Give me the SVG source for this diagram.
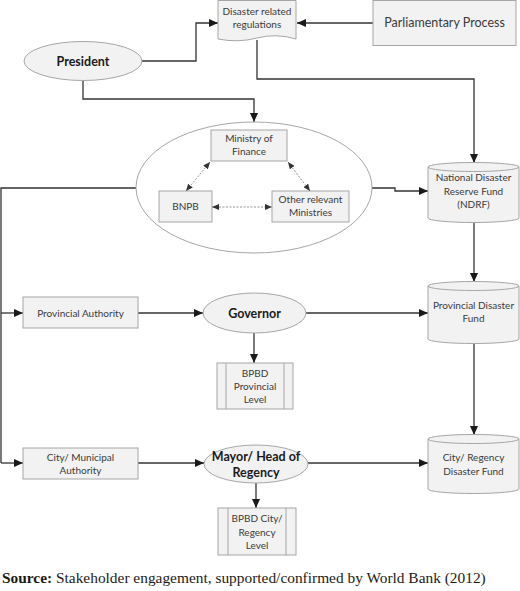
<svg xmlns="http://www.w3.org/2000/svg" width="520" height="591" viewBox="0 0 520 591">
<defs>
<marker id="ah" markerUnits="userSpaceOnUse" markerWidth="9" markerHeight="8" refX="9" refY="4" orient="auto"><path d="M0,0 L9,4 L0,8 z" fill="#1a1a1a"/></marker>
<marker id="dh" markerUnits="userSpaceOnUse" markerWidth="7" markerHeight="6" refX="7" refY="3" orient="auto-start-reverse"><path d="M0,0 L7,3 L0,6 z" fill="#333"/></marker>
<style>
.box{fill:#f2f2f2;stroke:#a6a6a6;stroke-width:1}
.t{font-family:Lato,"Liberation Sans",sans-serif;font-size:10px;fill:#3a3a3a;text-anchor:middle}
.b{font-family:Lato,"Liberation Sans",sans-serif;font-size:12.5px;font-weight:bold;fill:#1a1a1a;text-anchor:middle}
.c{fill:none;stroke:#333;stroke-width:1.3}
.d{fill:none;stroke:#888;stroke-width:0.9;stroke-dasharray:2,1.5}
</style>
</defs>
<g id="connectors">
<path class="c" d="M373,23 H297" marker-end="url(#ah)"/>
<path class="c" d="M142,61 H196 V23 H218" marker-end="url(#ah)"/>
<path class="c" d="M83,81 V99 H254 V122" marker-end="url(#ah)"/>
<path class="c" d="M257,40 V79 H474 V163" marker-end="url(#ah)"/>
<path class="c" d="M372,188 H395 V191 H428" marker-end="url(#ah)"/>
<path class="c" d="M136,188 H1 V463"/>
<path class="c" d="M1,313 H23" marker-end="url(#ah)"/>
<path class="c" d="M1,463 H23" marker-end="url(#ah)"/>
<path class="c" d="M138,313 H203" marker-end="url(#ah)"/>
<path class="c" d="M306,313 H428" marker-end="url(#ah)"/>
<path class="c" d="M254,333 V363" marker-end="url(#ah)"/>
<path class="c" d="M474,222 V282" marker-end="url(#ah)"/>
<path class="c" d="M474,343 V435" marker-end="url(#ah)"/>
<path class="c" d="M138,463 H204" marker-end="url(#ah)"/>
<path class="c" d="M308,463 H428" marker-end="url(#ah)"/>
<path class="c" d="M256,483 V508" marker-end="url(#ah)"/>
</g>
<g id="regulations">
<path class="box" d="M218,0.5 H296 V39 Q276,33 257,38 T218,39 Z"/>
<text class="t" x="257" y="15">Disaster related</text>
<text class="t" x="257" y="28">regulations</text>
</g>
<g id="parliament">
<rect class="box" x="373" y="0.5" width="143" height="45"/>
<text class="t" x="444.5" y="27" style="font-size:12.5px">Parliamentary Process</text>
</g>
<g id="president">
<ellipse class="box" cx="83" cy="61" rx="59" ry="19.5"/>
<text class="b" x="83" y="65.5">President</text>
</g>
<g id="central">
<ellipse class="box" cx="254" cy="187.5" rx="118" ry="65.5" style="fill:#fff"/>
</g>
<g id="ministry-finance">
<rect class="box" x="211" y="130" width="76" height="31"/>
<text class="t" x="249" y="142">Ministry of</text>
<text class="t" x="249" y="155">Finance</text>
</g>
<g id="bnpb">
<rect class="box" x="159" y="191" width="53" height="31"/>
<text class="t" x="185.5" y="210">BNPB</text>
</g>
<g id="other-ministries">
<rect class="box" x="272" y="191" width="77" height="31"/>
<text class="t" x="310.5" y="203">Other relevant</text>
<text class="t" x="310.5" y="216">Ministries</text>
</g>
<g id="dashed">
<path class="d" d="M210,162 L186,191" marker-start="url(#dh)" marker-end="url(#dh)"/>
<path class="d" d="M288,162 L310,191" marker-start="url(#dh)" marker-end="url(#dh)"/>
<path class="d" d="M212,207 H272" marker-start="url(#dh)" marker-end="url(#dh)"/>
</g>
<g id="ndrf">
<path class="box" d="M428,167 A45.5,4.5 0 0 1 519,167 V218 A45.5,4.5 0 0 1 428,218 Z"/>
<path class="box" d="M428,167 A45.5,4.5 0 0 0 519,167" style="fill:none"/>
<text class="t" x="473.5" y="181">National Disaster</text>
<text class="t" x="473.5" y="195">Reserve Fund</text>
<text class="t" x="473.5" y="208">(NDRF)</text>
</g>
<g id="provincial-authority">
<rect class="box" x="23" y="297" width="115" height="31"/>
<text class="t" x="80.5" y="316.5">Provincial Authority</text>
</g>
<g id="governor">
<ellipse class="box" cx="254.5" cy="313" rx="51.5" ry="20"/>
<text class="b" x="254.5" y="317.5">Governor</text>
</g>
<g id="provincial-fund">
<path class="box" d="M428,286 A45.5,4.5 0 0 1 519,286 V339 A45.5,4.5 0 0 1 428,339 Z"/>
<path class="box" d="M428,286 A45.5,4.5 0 0 0 519,286" style="fill:none"/>
<text class="t" x="473.5" y="309">Provincial Disaster</text>
<text class="t" x="473.5" y="322">Fund</text>
</g>
<g id="bpbd-provincial">
<rect class="box" x="217" y="363" width="76" height="46"/>
<path class="box" d="M226,363 V409 M284,363 V409"/>
<text class="t" x="255" y="377">BPBD</text>
<text class="t" x="255" y="390">Provincial</text>
<text class="t" x="255" y="403">Level</text>
</g>
<g id="city-authority">
<rect class="box" x="23" y="448" width="115" height="31"/>
<text class="t" x="80.5" y="460.5">City/ Municipal</text>
<text class="t" x="80.5" y="474">Authority</text>
</g>
<g id="mayor">
<ellipse class="box" cx="256" cy="464" rx="52" ry="19"/>
<text class="b" x="256" y="461">Mayor/ Head of</text>
<text class="b" x="256" y="477">Regency</text>
</g>
<g id="city-fund">
<path class="box" d="M428,439 A45.5,4.5 0 0 1 519,439 V489 A45.5,4.5 0 0 1 428,489 Z"/>
<path class="box" d="M428,439 A45.5,4.5 0 0 0 519,439" style="fill:none"/>
<text class="t" x="473.5" y="461">City/ Regency</text>
<text class="t" x="473.5" y="475">Disaster Fund</text>
</g>
<g id="bpbd-city">
<rect class="box" x="218" y="508" width="78" height="47"/>
<path class="box" d="M228,508 V555 M286,508 V555"/>
<text class="t" x="257" y="522">BPBD City/</text>
<text class="t" x="257" y="536">Regency</text>
<text class="t" x="257" y="549">Level</text>
</g>
<text x="2" y="583" style="font-family:'Liberation Serif',serif;font-size:15.4px;fill:#1a1a1a"><tspan font-weight="bold">Source:</tspan> Stakeholder engagement, supported/confirmed by World Bank (2012)</text>
</svg>
